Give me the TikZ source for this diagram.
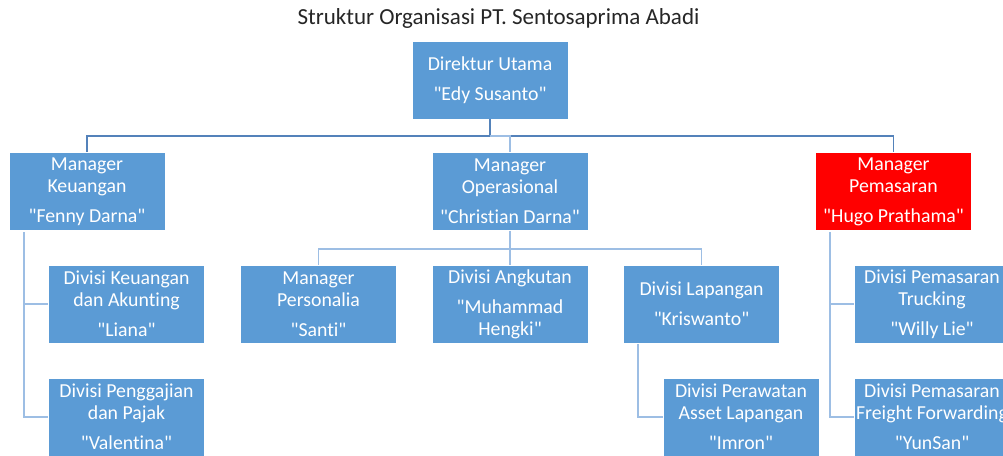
\documentclass[tikz,border=0pt]{standalone}
\usepackage{fontspec}
\setmainfont{Carlito}[Ligatures={TeXOff,NoCommon}]
\definecolor{boxblue}{RGB}{91,155,213}
\definecolor{boxred}{RGB}{255,0,0}
\definecolor{linedark}{RGB}{84,130,186}
\definecolor{linelight}{RGB}{157,190,228}
\begin{document}
\begin{tikzpicture}[x=1pt,y=-1pt,
  orgbox/.style={draw=white,line width=0.8pt,fill=boxblue,text=white,
    minimum width=156pt,minimum height=78pt,inner sep=0pt,align=center,
    font=\fontsize{19.8}{22}\selectfont},
  redbox/.style={orgbox,fill=boxred},
  conndark/.style={draw=linedark,line width=1.6pt},
  connlight/.style={draw=linelight,line width=1.6pt}]
\useasboundingbox (0,0) rectangle (1003,455);
\clip (0,0) rectangle (1003,455);
\fill[white] (0,0) rectangle (1003,455);

\node[font=\fontsize{23}{26}\selectfont,text=black!85] (title) at (498.5,18) {Struktur Organisasi PT. Sentosaprima Abadi};

\node[orgbox] (dir) at (490,80) {Direktur Utama\\[8pt]"Edy Susanto"};
\node[orgbox] (mk) at (87,191.5) {Manager\\Keuangan\\[8pt]"Fenny Darna"};
\node[orgbox] (mo) at (510,191.5) {Manager\\Operasional\\[8pt]"Christian Darna"};
\node[redbox] (mp) at (893.5,191.5) {Manager\\Pemasaran\\[8pt]"Hugo Prathama"};

\node[orgbox] (dka) at (126.5,304) {Divisi Keuangan\\dan Akunting\\[8pt]"Liana"};
\node[orgbox] (dpp) at (126.5,417) {Divisi Penggajian\\dan Pajak\\[8pt]"Valentina"};
\node[orgbox] (mper) at (318.5,304) {Manager\\Personalia\\[8pt]"Santi"};
\node[orgbox] (dang) at (510,304) {Divisi Angkutan\\[8pt]"Muhammad\\Hengki"};
\node[orgbox] (dlap) at (701.5,304) {Divisi Lapangan\\[8pt]"Kriswanto"};
\node[orgbox] (dpa) at (741,417) {Divisi Perawatan\\Asset Lapangan\\[8pt]"Imron"};
\node[orgbox] (dpt) at (932,304) {Divisi Pemasaran\\Trucking\\[8pt]"Willy Lie"};
\node[orgbox] (dpf) at (932,417) {Divisi Pemasaran\\Freight Forwarding\\[8pt]"YunSan"};

\coordinate (b1) at (490,136);
\coordinate (b2) at (510,249);
\coordinate (k0) at (24,232);
\coordinate (l0) at (638,344);
\coordinate (p0) at (830,232);

\draw[conndark] (dir.south) -- (b1);
\draw[conndark] (b1) -| (mk.north);
\draw[conndark] (b1) -| (mp.north);
\draw[connlight] (b1) -| (mo.north);

\draw[connlight] (mo.south) -- (b2);
\draw[connlight] (b2) -| (mper.north);
\draw[connlight] (b2) -| (dang.north);
\draw[connlight] (b2) -| (dlap.north);

\draw[connlight] (k0) |- (dka.west);
\draw[connlight] (k0) |- (dpp.west);
\draw[connlight] (l0) |- (dpa.west);
\draw[connlight] (p0) |- (dpt.west);
\draw[connlight] (p0) |- (dpf.west);
\end{tikzpicture}
\end{document}
